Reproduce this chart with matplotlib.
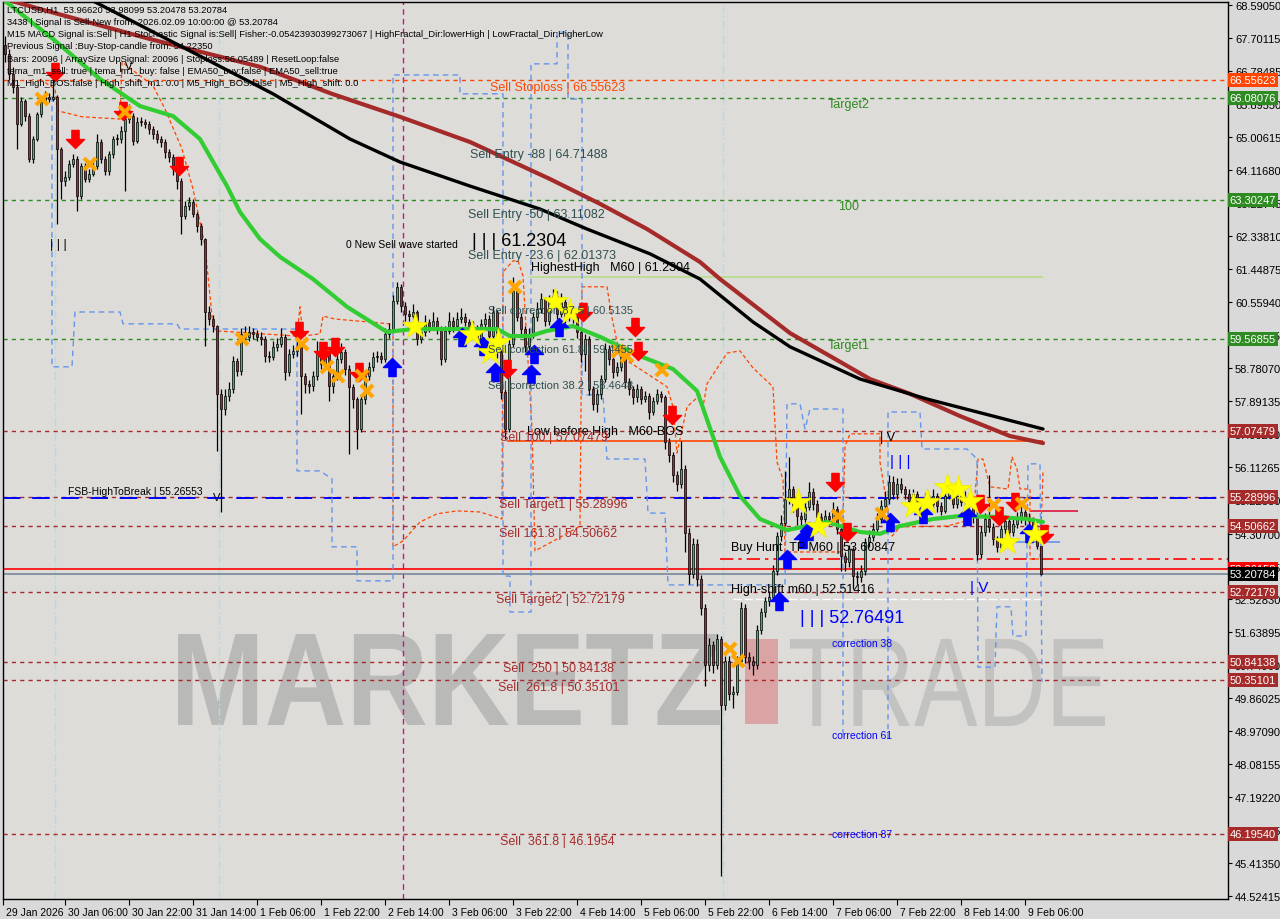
import numpy as np
import matplotlib
matplotlib.use("Agg")
import matplotlib.pyplot as plt
import matplotlib.transforms as mtrans
from matplotlib.path import Path
from matplotlib.patches import PathPatch, Rectangle
from matplotlib.textpath import TextPath
from matplotlib.font_manager import FontProperties, findfont


def pick_font(names):
    for name in names:
        try:
            findfont(FontProperties(family=name), fallback_to_default=False)
            return name
        except Exception:
            pass
    return "DejaVu Sans"


NARROW = pick_font(["Liberation Sans Narrow", "Liberation Sans"])
SANS = pick_font(["Liberation Sans", "DejaVu Sans"])
print("fonts:", NARROW, SANS)

# ---- hourly candles, first bar = 29 Jan 15:00, last = 9 Feb 10:00 ----
open_first = 67.50
bar_close = [
    67.26, 66.72, 66.37, 65.37, 65.99, 65.59, 64.42, 64.96, 65.64, 65.96,
    66.10, 66.04, 66.10, 64.69, 63.83, 63.94, 64.29, 64.42, 63.42, 64.23,
    63.88, 64.02, 64.23, 64.88, 64.42, 64.10, 64.56, 64.96, 64.95, 65.18,
    65.50, 65.58, 64.91, 65.42, 65.41, 65.37, 65.23, 65.10, 64.96, 64.88,
    64.61, 64.48, 64.15, 63.83, 62.88, 63.15, 63.26, 62.94, 62.61, 62.26,
    60.29, 60.10, 59.91, 58.08, 57.67, 58.02, 58.21, 58.97, 58.70, 59.70,
    59.62, 59.75, 59.70, 59.62, 59.56, 59.10, 59.08, 59.35, 59.43, 59.62,
    58.67, 59.16, 59.24, 59.37, 58.56, 58.35, 58.29, 58.56, 59.16, 58.89,
    59.21, 58.29, 58.56, 59.02, 59.21, 58.75, 58.27, 57.94, 57.13, 57.94,
    58.56, 58.81, 59.08, 59.10, 59.02, 59.70, 59.83, 60.59, 60.97, 60.45,
    60.24, 60.18, 60.29, 59.56, 59.75, 60.02, 59.89, 60.05, 59.83, 59.02,
    59.78, 60.05, 59.91, 60.10, 60.16, 60.02, 59.70, 59.89, 59.56, 59.97,
    60.10, 59.64, 60.29, 59.21, 58.13, 57.13, 59.43, 60.86, 60.16, 59.83,
    59.37, 59.70, 60.16, 60.37, 60.64, 60.05, 60.59, 60.72, 60.24, 60.56,
    60.16, 60.37, 60.18, 59.75, 59.16, 59.56, 58.21, 57.81, 58.08, 58.48,
    59.29, 59.02, 58.67, 58.81, 59.08, 58.40, 58.21, 57.99, 58.21, 57.94,
    58.02, 57.59, 57.89, 58.08, 57.99, 56.78, 56.43, 55.89, 55.65, 56.05,
    54.32, 53.22, 54.03, 53.08, 52.30, 50.76, 51.30, 50.76, 51.46, 49.68,
    50.87, 49.98, 50.03, 50.87, 52.30, 50.97, 50.87, 50.76, 51.70, 52.19,
    52.49, 52.59, 53.30, 54.24, 54.59, 55.24, 55.51, 55.05, 54.78, 54.70,
    55.02, 55.43, 55.11, 54.75, 54.62, 54.78, 54.70, 54.97, 54.43, 53.70,
    53.54, 53.89, 53.16, 53.14, 53.30, 54.08, 54.22, 54.43, 54.70, 55.05,
    55.24, 55.70, 55.38, 55.65, 55.51, 55.38, 55.19, 55.38, 55.16, 54.92,
    55.24, 55.11, 55.32, 55.05, 54.92, 55.32, 55.43, 55.11, 55.32, 55.16,
    55.30, 55.11, 54.75, 53.76, 54.35, 54.70, 54.49, 54.16, 53.95, 54.43,
    54.65, 54.35, 54.57, 54.70, 54.89, 54.70, 54.65, 54.43, 53.97, 53.21,
]
bar_high = [
    67.75, 67.40, 66.90, 66.45, 66.10, 66.05, 65.65, 65.05, 65.70, 66.05,
    66.25, 66.20, 66.60, 66.15, 64.75, 64.10, 64.40, 64.55, 64.50, 64.30,
    64.30, 64.15, 64.35, 65.10, 64.95, 64.50, 64.65, 65.05, 65.10, 65.30,
    65.60, 65.90, 65.65, 65.55, 65.55, 65.50, 65.45, 65.30, 65.20, 65.05,
    64.95, 64.70, 64.55, 64.25, 63.90, 63.30, 63.40, 63.35, 63.00, 62.70,
    62.30, 60.45, 60.20, 59.95, 58.20, 58.20, 58.40, 59.10, 59.05, 59.85,
    59.90, 59.90, 59.85, 59.80, 59.75, 59.65, 59.25, 59.50, 59.60, 59.85,
    59.70, 59.30, 59.40, 59.55, 59.45, 58.65, 58.45, 58.70, 59.50, 59.25,
    59.45, 59.30, 58.70, 59.20, 59.45, 59.30, 58.85, 58.35, 58.00, 58.05,
    58.65, 58.95, 59.20, 59.25, 59.20, 59.85, 60.00, 60.75, 61.10, 61.05,
    60.55, 60.35, 60.50, 60.35, 59.90, 60.20, 60.10, 60.30, 60.15, 59.90,
    59.90, 60.30, 60.15, 60.30, 60.40, 60.25, 60.10, 60.05, 59.95, 60.10,
    60.25, 60.20, 60.45, 60.35, 59.30, 58.20, 59.55, 61.23, 60.95, 60.25,
    59.90, 59.85, 60.30, 60.55, 60.80, 60.70, 60.75, 60.90, 60.85, 60.80,
    60.65, 60.55, 60.45, 60.25, 59.85, 59.70, 59.65, 58.30, 58.20, 58.60,
    59.45, 59.40, 59.10, 58.95, 59.25, 59.15, 58.50, 58.30, 58.35, 58.30,
    58.15, 58.10, 58.00, 58.20, 58.15, 58.05, 56.90, 56.50, 56.00, 56.80,
    56.15, 54.45, 54.20, 54.15, 53.20, 52.40, 51.50, 51.40, 51.60, 51.55,
    51.00, 51.00, 50.20, 51.00, 52.45, 52.40, 51.10, 51.00, 51.85, 52.30,
    52.60, 52.75, 53.45, 54.35, 54.80, 56.00, 56.38, 55.60, 55.20, 54.90,
    55.20, 55.70, 55.55, 55.20, 54.85, 54.95, 54.90, 55.15, 55.05, 54.50,
    53.80, 54.00, 53.95, 53.30, 53.45, 54.20, 54.40, 54.60, 54.85, 55.20,
    55.45, 55.90, 55.85, 55.80, 55.80, 55.60, 55.50, 55.50, 55.45, 55.25,
    55.40, 55.35, 55.50, 55.40, 55.15, 55.50, 55.65, 55.50, 55.50, 55.40,
    55.45, 55.40, 55.20, 54.85, 54.50, 54.85, 55.90, 54.60, 54.25, 54.55,
    54.80, 54.75, 54.70, 54.90, 55.10, 55.00, 54.85, 54.75, 54.55, 53.98,
]
bar_low = [
    67.05, 66.55, 66.20, 64.69, 65.30, 65.45, 64.34, 64.30, 64.90, 65.55,
    65.90, 65.95, 65.98, 62.67, 63.34, 63.70, 63.85, 64.20, 63.02, 63.35,
    63.80, 63.80, 63.95, 64.15, 64.30, 64.00, 64.00, 64.45, 64.80, 64.85,
    63.56, 65.40, 64.80, 64.85, 65.30, 65.25, 65.10, 64.95, 64.85, 64.75,
    64.45, 64.35, 64.00, 63.60, 62.40, 62.80, 63.05, 62.85, 62.45, 62.10,
    59.37, 59.95, 59.75, 56.54, 54.89, 57.50, 57.90, 58.10, 58.55, 58.60,
    59.50, 59.50, 59.55, 59.50, 59.40, 58.95, 58.95, 59.00, 59.25, 59.35,
    58.45, 58.55, 59.05, 59.10, 57.54, 58.10, 58.10, 58.15, 58.45, 58.75,
    58.80, 57.90, 58.10, 58.45, 58.90, 58.60, 56.46, 57.70, 56.59, 57.05,
    57.80, 58.45, 58.70, 58.95, 58.90, 58.95, 59.60, 59.75, 60.50, 60.30,
    60.05, 60.05, 60.10, 59.40, 59.45, 59.65, 59.75, 59.80, 59.70, 58.85,
    58.95, 59.70, 59.75, 59.80, 60.00, 59.90, 59.55, 59.60, 59.40, 59.45,
    59.85, 59.50, 59.55, 59.05, 57.95, 56.86, 57.05, 59.35, 60.05, 59.70,
    59.20, 59.25, 59.60, 60.05, 60.25, 59.90, 59.95, 60.45, 60.10, 60.15,
    60.00, 60.05, 60.00, 59.60, 58.95, 58.70, 58.05, 57.65, 57.60, 57.95,
    58.40, 58.85, 58.50, 58.55, 58.70, 58.25, 58.05, 57.80, 57.85, 57.80,
    57.85, 57.40, 57.50, 57.80, 57.85, 56.60, 56.25, 55.70, 55.45, 55.55,
    53.80, 52.95, 53.10, 52.90, 52.10, 50.20, 50.60, 50.55, 50.65, 45.06,
    49.55, 49.80, 49.60, 49.95, 50.75, 50.80, 50.65, 50.50, 50.65, 51.60,
    52.05, 52.35, 52.50, 53.20, 54.10, 54.50, 55.10, 54.90, 54.55, 54.50,
    54.60, 54.95, 54.95, 54.55, 54.45, 54.50, 54.55, 54.60, 54.30, 53.30,
    53.30, 53.40, 52.80, 52.95, 53.00, 53.20, 53.95, 54.10, 54.30, 54.60,
    54.95, 55.10, 55.25, 55.25, 55.40, 55.25, 55.05, 55.10, 55.00, 54.80,
    54.85, 55.00, 55.00, 54.90, 54.80, 54.85, 55.25, 55.00, 55.00, 55.05,
    55.05, 55.00, 54.60, 53.60, 53.65, 54.25, 54.35, 54.00, 53.80, 53.85,
    54.30, 54.20, 54.25, 54.45, 54.60, 54.55, 54.50, 54.30, 53.90, 53.20,
]

# moving averages (bar index, price)
ema_green_x = [0, 6.25, 12, 23.75, 33.75, 42, 48.75, 55.5, 58.75, 63.75, 68.75, 77, 85.5,
               95.5, 102, 110.5, 123, 126.25, 131.25, 135.5, 142, 148.75, 158.75, 167,
               173, 178.75, 183.75, 188.75, 195.5, 205.5, 213.75, 218.75, 223.75, 232,
               238.75, 247, 255.5, 259.5]
ema_green_y = [68.69, 68.15, 67.66, 66.58, 65.85, 65.58, 64.96, 63.69, 62.99, 62.26, 61.78,
               61.18, 60.43, 59.75, 59.83, 59.83, 59.83, 59.64, 59.64, 59.78, 59.91, 59.62,
               59.10, 58.75, 58.16, 56.38, 55.32, 54.70, 54.40, 54.62, 54.35, 54.30, 54.51,
               54.70, 54.78, 54.76, 54.70, 54.62]
ema_black_x = [0, 22.5, 48.75, 67, 86.25, 98.75, 116.25, 133.75, 145.5, 161.25, 173.75,
               187, 196.25, 213.75, 230.5, 247, 259.5]
ema_black_y = [70.36, 68.66, 67.20, 66.18, 64.96, 64.34, 63.69, 63.07, 62.53, 61.86, 61.18,
               60.02, 59.35, 58.48, 57.94, 57.48, 57.13]
ema_brown_x = [0, 8.75, 36.25, 63.75, 81.75, 98.75, 116.25, 136.25, 148.75, 160.5, 173.75,
               178.75, 196.25, 216.25, 226.25, 238.75, 251.25, 259.5]
ema_brown_y = [68.74, 68.47, 67.66, 66.91, 66.18, 65.56, 64.88, 63.88, 63.21, 62.53, 61.64,
               61.18, 59.72, 58.48, 58.08, 57.48, 56.94, 56.75]

# thin orange dashed envelope
env_x = [8.75, 12.5, 13.25, 19.25, 28.75, 29.25, 37, 40, 44.25, 47, 50, 52, 52.75, 73, 73.75,
         74.5, 78.75, 79.5, 82.5, 96.25, 97, 97, 99.5, 103.75, 108, 113, 118.75, 122, 124.25,
         124.5, 127, 128.25, 129.5, 131.75, 132.5, 138, 143.75, 144.25, 150.5, 151.75, 153.75,
         158.75, 165.5, 167, 168, 170.5, 173.75, 174.5, 175.5, 180.5, 183.75, 187, 192, 193,
         194.5, 195, 209.25, 210, 211.25, 218.75, 218.75, 221.75, 223.75, 235.5, 242, 243.25,
         244.5, 246.25, 250.75, 251.75, 253, 253.75, 256.25, 256.25, 258.75, 259.5]
env_y = [66.58, 66.31, 65.72, 65.56, 65.50, 67.04, 66.40, 65.77, 64.69, 63.61, 62.07, 59.91,
         59.78, 59.64, 60.43, 59.64, 59.70, 60.18, 60.10, 59.97, 59.97, 53.95, 54.11, 54.62,
         54.84, 54.92, 54.89, 54.78, 54.70, 61.37, 61.67, 61.67, 61.26, 57.13, 53.84, 54.16,
         54.51, 60.97, 60.97, 60.13, 59.10, 58.75, 58.27, 57.73, 56.48, 57.73, 58.05, 57.73,
         58.35, 59.18, 59.24, 58.78, 58.27, 56.24, 55.78, 53.81, 53.81, 56.67, 57.00, 57.00,
         56.24, 54.24, 54.49, 54.51, 54.70, 56.32, 56.32, 55.57, 55.51, 56.38, 56.05, 55.51,
         55.51, 53.62, 53.62, 55.97]

# blue dashed step lines
step1_x = [11.75, 11.75, 16.75, 17.5, 28.75, 29.5, 43, 43.75, 73, 73, 78.75, 81.75, 81.75, 88,
           88, 97, 97, 113.75, 113.75, 124.5, 124.5, 126.25, 126.25, 131.5, 131.5, 138, 138,
           140.75, 140.75, 144.25, 144.25, 149.5, 150.5, 160, 160.75, 165, 165.75, 195, 195.5,
           198.75, 200, 201.25, 209.5, 209.5]
step1_y = [66.12, 58.81, 58.81, 60.29, 60.29, 59.97, 59.97, 59.83, 59.83, 56.00, 56.00, 55.78,
           53.95, 53.95, 53.03, 53.03, 66.69, 66.69, 66.18, 66.18, 53.16, 53.16, 52.19, 52.19,
           66.99, 66.99, 67.85, 67.85, 66.04, 66.04, 58.05, 58.05, 56.32, 56.32, 54.86, 54.86,
           52.92, 52.92, 57.81, 57.81, 57.13, 57.67, 57.67, 48.76]
step2_x = [220.75, 220.75, 228.75, 229.25, 240.5, 243, 243.25, 247.5, 248, 251.5, 252, 255.25,
           255.75, 258.75, 259.25]
step2_y = [48.76, 57.59, 57.59, 56.59, 56.59, 56.32, 50.70, 50.70, 52.33, 52.33, 51.54, 51.54,
           56.19, 56.19, 50.30]

# signal markers (bar index, price)
sell_arrow_x = [12.5, 17.5, 29.5, 43.5, 73.5, 79.5, 82.5, 88.5, 125.5, 144.5, 157.5, 158.25,
                166.75, 207.5, 210.5, 243.75, 248.5, 252.5, 259.75]
sell_arrow_y = [66.77, 64.96, 65.72, 64.23, 59.78, 59.24, 59.35, 58.67, 58.75, 60.29, 59.89,
                59.24, 57.51, 55.70, 54.35, 55.11, 54.78, 55.16, 54.30]
buy_arrow_x = [96.75, 114.25, 119.5, 122.5, 131.5, 132.25, 138.5, 193.5, 195.5, 199.5, 201,
               221.25, 229.5, 240.5, 256]
buy_arrow_y = [58.81, 59.62, 59.37, 58.67, 58.62, 59.16, 59.89, 52.49, 53.62, 54.16, 54.38,
               54.62, 54.84, 54.78, 54.32]
cross_x = [9.25, 21.25, 30, 59.25, 74.25, 80.5, 83.25, 89.25, 90.5, 127.5, 153.25, 155.5,
           164.25, 181.25, 183.25, 208.25, 219.25, 247.25, 254.25]
cross_y = [66.04, 64.29, 65.69, 59.56, 59.43, 58.81, 58.56, 58.56, 58.16, 60.97, 59.24, 59.10,
           58.73, 51.19, 50.87, 54.78, 54.84, 55.08, 55.11]
star_x = [102.5, 116.75, 121.25, 123.25, 137.5, 141.25, 198.25, 203.25, 227, 230.5, 235.5,
          238.25, 241.25, 250.5, 257.5]
star_y = [59.91, 59.70, 59.21, 59.48, 60.59, 60.29, 55.16, 54.51, 55.05, 55.16, 55.57, 55.51,
          55.19, 54.08, 54.30]

# horizontal levels: (price, colour of line / label box)
level_prices = [66.55623, 66.08076, 63.30247, 59.56855, 57.07479, 55.28996, 54.50662,
                52.72179, 50.84138, 50.35101, 46.19540]
level_colors = ["#ff4500", "#2e8b22", "#2e8b22", "#2e8b22", "#a52a2a", "#a52a2a", "#a52a2a",
                "#a52a2a", "#a52a2a", "#a52a2a", "#a52a2a"]
fsb_level = 55.26553
hunt_tp = 53.60847
red_level = 53.36158
last_price = 53.20784
highest_high = 61.2304
sell100_line = 56.81
hl_blue = 54.08
hl_crimson = 54.92
hl_white = 52.54

ytick_vals = [68.59050, 67.70115, 66.78485, 65.89550, 65.00615, 64.11680, 63.22745, 62.33810,
              61.44875, 60.55940, 59.67005, 58.78070, 57.89135, 57.00200, 56.11265, 55.22330,
              54.30700, 53.41765, 52.52830, 51.63895, 50.74960, 49.86025, 48.97090, 48.08155,
              47.19220, 46.30285, 45.41350, 44.52415]
xtick_bars = [-0.5, 15, 31, 47, 63, 79, 95, 111, 127, 143, 159, 175, 191, 207, 223, 239, 255]
xtick_labels = ["29 Jan 2026", "30 Jan 06:00", "30 Jan 22:00", "31 Jan 14:00", "1 Feb 06:00",
                "1 Feb 22:00", "2 Feb 14:00", "3 Feb 06:00", "3 Feb 22:00", "4 Feb 14:00",
                "5 Feb 06:00", "5 Feb 22:00", "6 Feb 14:00", "7 Feb 06:00", "7 Feb 22:00",
                "8 Feb 14:00", "9 Feb 06:00"]

info_lines = [
    "LTCUSD,H1  53.96620 53.98099 53.20478 53.20784",
    "3438 | Signal is Sell-New from: 2026.02.09 10:00:00 @ 53.20784",
    "M15 MACD Signal is:Sell | H1 Stochastic Signal is:Sell| Fisher:-0.05423930399273067 | HighFractal_Dir:lowerHigh | LowFractal_Dir:HigherLow",
    "Previous Signal :Buy-Stop-candle from: 54.22350",
    "Bars: 20096 | ArraySize UpSignal: 20096 | Stoploss:56.05489 | ResetLoop:false",
    "tema_m1_sell: true | tema_m1_buy: false | EMA50_buy:false | EMA50_sell:true",
    "M1_High_BOS:false | High_shift_m1: 0.0 | M5_High_BOS:false | M5_High_shift: 0.0",
]

# chart labels: (text, bar, price, colour, size)
labels = [
    ("Sell Stoploss | 66.55623", 121.25, 66.37, "#ff4500", 9),
    ("Target2", 205.75, 65.91, "#2e8b22", 9),
    ("Sell Entry -88 | 64.71488", 116.25, 64.56, "#2f4f4f", 9),
    ("100", 208.25, 63.15, "#2e8b22", 9),
    ("Sell Entry -50 | 63.11082", 115.75, 62.94, "#2f4f4f", 9),
    ("0 New Sell wave started", 85.25, 62.13, "black", 7.5),
    ("| | | 61.2304", 116.75, 62.23, "black", 13),
    ("Sell Entry -23.6 | 62.01373", 115.75, 61.83, "#2f4f4f", 9),
    ("HighestHigh   M60 | 61.2304", 131.5, 61.51, "black", 9),
    ("Sell correction 87.5 | 60.5135", 120.75, 60.35, "#2f4f4f", 8),
    ("Target1", 205.75, 59.40, "#2e8b22", 9),
    ("Sell correction 61.8 | 59.4455", 120.75, 59.29, "#2f4f4f", 8),
    ("Sell correction 38.2 | 58.4648", 120.75, 58.32, "#2f4f4f", 8),
    ("Low before High   M60-BOS", 130.5, 57.08, "black", 9),
    ("Sell 100 | 57.07479", 123.75, 56.92, "#a52a2a", 9),
    ("FSB-HighToBreak | 55.26553", 15.75, 55.46, "black", 7.5),
    ("Sell Target1 | 55.28996", 123.5, 55.11, "#a52a2a", 9),
    ("Sell 161.8 | 54.50662", 123.5, 54.32, "#a52a2a", 9),
    ("Buy Hunt  TP M60 | 53.60847", 181.5, 53.94, "black", 9),
    ("High-shift m60 | 52.51416", 181.5, 52.81, "black", 9),
    ("Sell Target2 | 52.72179", 122.75, 52.54, "#a52a2a", 9),
    ("| | | 52.76491", 198.75, 52.03, "#0000ff", 13),
    ("correction 38", 206.75, 51.35, "#0000ff", 7.5),
    ("Sell  250 | 50.84138", 124.5, 50.68, "#a52a2a", 9),
    ("Sell  261.8 | 50.35101", 123.25, 50.17, "#a52a2a", 9),
    ("correction 61", 206.75, 48.87, "#0000ff", 7.5),
    ("correction 87", 206.75, 46.19, "#0000ff", 7.5),
    ("Sell  361.8 | 46.1954", 123.75, 46.01, "#a52a2a", 9),
    ("| | |", 11.25, 62.13, "black", 9),
    ("V", 52.0, 55.30, "black", 8),
    ("| V", 28.5, 66.93, "black", 8),
    ("| V", 218.75, 56.92, "black", 9),
    ("| | |", 221.25, 56.27, "#0000ff", 11),
    ("| V", 241.25, 52.87, "#0000ff", 11),
]

# ---------------------------------------------------------------------------
fig = plt.figure(figsize=(12.8, 9.2), dpi=100, facecolor="#d9d9d9")
ax = fig.add_axes([3 / 1280, 20 / 920, 1225 / 1280, 897 / 920], facecolor="#dddcd9")
ax.set_xlim(-0.5, 305.75)
ax.set_ylim(44.44, 68.66)


def watermark(text, rect, color, weight):
    tp = TextPath((0, 0), text, size=100, prop=FontProperties(family=SANS, weight=weight))
    ext = tp.get_extents()
    x0, y0, x1, y1 = rect
    tr = (mtrans.Affine2D().translate(-ext.x0, -ext.y0)
          .scale((x1 - x0) / ext.width, (y1 - y0) / ext.height)
          .translate(x0, y0) + ax.transAxes)
    ax.add_patch(PathPatch(tp, transform=tr, fc=color, ec="none", zorder=0.3))


watermark("MARKETZ", (0.1429, 0.194, 0.5853, 0.2954), "#b9b9b8", "bold")
ax.add_patch(Rectangle((0.6057, 0.1951), 0.027, 0.0948, transform=ax.transAxes,
                       fc="#dba4a4", ec="none", zorder=0.3))
watermark("TRADE", (0.6424, 0.1929, 0.8996, 0.2899), "#c2c2c1", "normal")

# vertical markers
ax.axvline(99.5, color="#c71585", lw=1, ls=(0, (4, 3)), zorder=1)
for vx in [12.5, 53.5, 179.5]:
    ax.axvline(vx, color="#a9dfe6", lw=1, ls=(0, (6, 2, 1, 2)), zorder=1)

# horizontal levels
for p, c in zip(level_prices, level_colors):
    ax.axhline(p, color=c, lw=1, ls=(0, (3, 3)), zorder=1.2)
ax.axhline(fsb_level, color="#0000ff", lw=1.4, ls=(0, (9, 6)), zorder=1.2)
ax.axhline(red_level, color="#ff0000", lw=1.2, zorder=1.2)
ax.axhline(last_price, color="#778899", lw=1.2, zorder=1.2)
ax.hlines(hunt_tp, 178.75, 305.75, color="#ff0000", lw=1.2, ls=(0, (8, 3, 2, 3)), zorder=1.2)
ax.hlines(highest_high, 131, 259.5, color="#b6dc8c", lw=1.2, zorder=1.2)
ax.hlines(sell100_line, 125.5, 259.5, color="#ff4500", lw=1.2, zorder=1.2)
ax.hlines(hl_blue, 252.5, 263.75, color="#6495ed", lw=1.2, zorder=1.2)
ax.hlines(hl_crimson, 256.25, 268.25, color="#dc143c", lw=1.2, zorder=1.2)
ax.hlines(hl_white, 182, 258.75, color="white", lw=1, ls=(0, (6, 2)), zorder=1.2)

# envelopes
ax.plot(env_x, env_y, color="#ff4500", lw=0.9, ls=(0, (3, 2)), zorder=1.5)
ax.plot(step1_x, step1_y, color="#6495ed", lw=1, ls=(0, (4, 3)), zorder=1.5)
ax.plot(step2_x, step2_y, color="#6495ed", lw=1, ls=(0, (4, 3)), zorder=1.5)

# candles
closes = np.array(bar_close)
opens = np.concatenate([[open_first], closes[:-1]])
highs = np.maximum(np.array(bar_high), np.maximum(opens, closes))
lows = np.minimum(np.array(bar_low), np.minimum(opens, closes))
idx = np.arange(len(closes))
up = closes >= opens
ax.vlines(idx, lows, highs, color="black", lw=0.9, zorder=2)
body_h = np.maximum(np.abs(closes - opens), 0.03)
ax.bar(idx[up], body_h[up], bottom=opens[up], width=0.72, color="#3cb371",
       edgecolor="black", lw=0.5, zorder=2.2)
ax.bar(idx[~up], body_h[~up], bottom=closes[~up], width=0.72, color="#b22234",
       edgecolor="black", lw=0.5, zorder=2.2)

# moving averages
ax.plot(ema_brown_x, ema_brown_y, color="#a52a2a", lw=3.0, zorder=3, solid_capstyle="round")
ax.plot(ema_black_x, ema_black_y, color="black", lw=2.4, zorder=3.1, solid_capstyle="round")
ax.plot(ema_green_x, ema_green_y, color="#32cd32", lw=3.0, zorder=3.2, solid_capstyle="round")

# signal markers
down_arrow = Path([(-0.2, 0.5), (0.2, 0.5), (0.2, 0.0), (0.5, 0.0), (0.0, -0.5),
                   (-0.5, 0.0), (-0.2, 0.0), (-0.2, 0.5)], closed=True)
up_arrow = Path([(x, -y) for x, y in down_arrow.vertices], closed=True)
ax.plot(sell_arrow_x, sell_arrow_y, ls="none", marker=down_arrow, ms=13, color="#ff0000",
        mec="#ff0000", zorder=4)
ax.plot(buy_arrow_x, buy_arrow_y, ls="none", marker=up_arrow, ms=13, color="#0000ff",
        mec="#0000ff", zorder=4)
ax.plot(cross_x, cross_y, ls="none", marker="x", ms=9, mew=3, color="#ffa500", zorder=4)
ax.plot(star_x, star_y, ls="none", marker="*", ms=20, color="#ffff00", mec="#e8e800",
        mew=0.5, zorder=4)

# labels on chart
for txt, bx, py, col, fs in labels:
    ax.text(bx, py, txt, color=col, fontsize=fs, family=SANS, va="center", ha="left",
            zorder=5, clip_on=True)

# info block
info_texts = []
for i, line in enumerate(info_lines):
    t = ax.text(0.0035, (900 - 10 - 12.3 * i) / 897, line, transform=ax.transAxes,
                fontsize=7.5, family=NARROW, va="center", ha="left", color="black", zorder=6)
    info_texts.append(t)
fig.canvas.draw()
w = info_texts[2].get_window_extent().width
scale = 595.0 / w
for t in info_texts:
    t.set_fontsize(7.5 * scale)

# axes styling
for s in ax.spines.values():
    s.set_color("black")
    s.set_linewidth(1)
ax.yaxis.tick_right()
ax.set_yticks(ytick_vals)
ax.set_yticklabels([f"{v:.5f}" for v in ytick_vals], family=NARROW, fontsize=8)
ax.tick_params(axis="y", direction="out", length=3, pad=2, colors="black")
ax.set_xticks(xtick_bars)
ax.set_xticklabels(xtick_labels, family=NARROW, fontsize=7.5, ha="left")
ax.tick_params(axis="x", direction="out", length=4, pad=2, colors="black")
offset = mtrans.ScaledTranslation(2 / 72, 0, fig.dpi_scale_trans)
for lab in ax.get_xticklabels():
    lab.set_transform(lab.get_transform() + offset)

# price boxes on the right
ytr = ax.get_yaxis_transform()
box_list = list(zip(level_prices, level_colors)) + [(red_level, "#ff0000"), (last_price, "black")]
for p, c in box_list:
    ax.text(1.0015, p, f"{p:.5f}", transform=ytr, fontsize=8, family=NARROW, color="white",
            va="center", ha="left", clip_on=False, zorder=10,
            bbox=dict(boxstyle="square,pad=0.18", fc=c, ec="none"))

fig.savefig("out.png", dpi=100, facecolor=fig.get_facecolor())
